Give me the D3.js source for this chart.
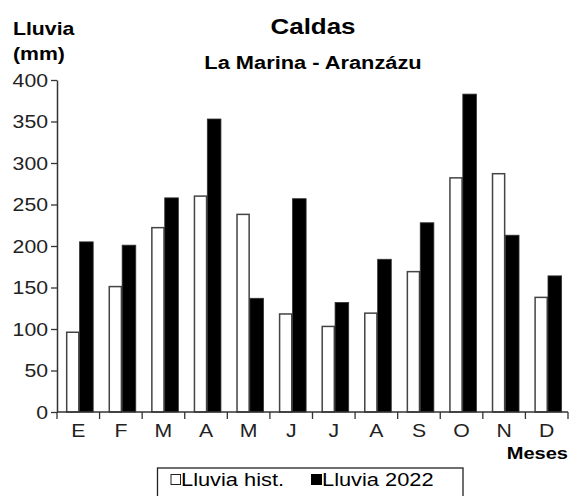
<!DOCTYPE html>
<html><head><meta charset="utf-8">
<script src="https://cdn.jsdelivr.net/npm/d3@7/dist/d3.min.js"></script>
<style>body{margin:0;background:#fff}svg{display:block;font-family:"Liberation Sans",Arial,sans-serif}</style>
</head><body>
<script>
const months = ["E","F","M","A","M","J","J","A","S","O","N","D"];
const series = ["Lluvia hist.","Lluvia 2022"];
const hist = [97,152,223,261,239,119,104,120,170,283,288,139];
const y2022 = [205,201,258,353,137,257,132,184,228,383,213,164];
const yTicks = [0,50,100,150,200,250,300,350,400];

(function(){
const W=571,H=496, SX=1.18;
const svg=d3.select("body").append("svg").attr("width",W).attr("height",H);
const mLeft=57,mRight=568,mTop=80,mBottom=412;
const x=d3.scaleBand().domain(d3.range(months.length)).range([mLeft,mRight]).padding(0);
const bw=x.bandwidth();
const x1=d3.scaleBand().domain(series).range([bw*0.21,bw*0.85]).padding(0);
const y=d3.scaleLinear().domain([0,400]).range([mBottom,mTop]);

function stretchText(sel){
  sel.each(function(){
    const t=d3.select(this);
    const xx=+t.attr("x")||0, yy=+t.attr("y")||0;
    t.attr("transform",`translate(${xx},${yy}) scale(${SX},1)`).attr("x",0).attr("y",0);
  });
}
function txt(x0,y0,s,size,weight,anchor,fill){
  const t=svg.append("text").attr("x",x0).attr("y",y0).text(s)
    .attr("font-size",size).attr("font-weight",weight).attr("text-anchor",anchor).attr("fill",fill||"#000");
  stretchText(t);return t;
}

const data=months.map((m,i)=>({i,vals:[hist[i],y2022[i]]}));
const g=svg.append("g");
data.forEach(d=>{
  series.forEach((s,k)=>{
    const v=d.vals[k];
    if(k===0){
      g.append("rect").attr("x",x(d.i)+x1(s)+0.75).attr("y",y(v)+0.75)
       .attr("width",x1.bandwidth()-1.5).attr("height",y(0)-y(v)-0.75)
       .attr("fill","#fff").attr("stroke","#444").attr("stroke-width",1.5);
    } else {
      g.append("rect").attr("x",x(d.i)+x1(s)).attr("y",y(v))
       .attr("width",x1.bandwidth()).attr("height",y(0)-y(v))
       .attr("fill","#000").attr("stroke","#333").attr("stroke-width",0.8);
    }
  });
});

// y axis
const ya=svg.append("g").attr("transform",`translate(${mLeft},0)`)
  .call(d3.axisLeft(y).tickValues(yTicks).tickSize(6).tickSizeOuter(0).tickPadding(3));
ya.select(".domain").attr("stroke","#333").attr("stroke-width",1.5);
ya.selectAll(".tick line").attr("stroke","#333").attr("stroke-width",1.3);
ya.selectAll(".tick text").attr("font-size",18).attr("fill","#222").attr("font-family","Liberation Sans, Arial, sans-serif")
  .attr("dy","0.36em").each(function(){
    const t=d3.select(this);
    t.attr("transform",`translate(-9,0) scale(${SX},1)`).attr("x",0);
  });

// x axis
const xa=svg.append("g").attr("transform",`translate(0,${mBottom})`);
xa.append("line").attr("x1",mLeft).attr("x2",mRight).attr("y1",0).attr("y2",0).attr("stroke","#333").attr("stroke-width",1.5);
d3.range(months.length+1).forEach(i=>{
  const xx=i<months.length?x(i):mRight;
  xa.append("line").attr("x1",xx).attr("x2",xx).attr("y1",0).attr("y2",7).attr("stroke","#333").attr("stroke-width",1.3);
});
months.forEach((m,i)=>{
  const t=xa.append("text").attr("x",x(i)+bw/2).attr("y",25).text(m).attr("font-size",18)
    .attr("text-anchor","middle").attr("fill","#222");
  stretchText(t);
});

// titles
txt(313,34,"Caldas",22,"bold","middle");
txt(313,69,"La Marina - Aranzázu",18.5,"bold","middle");
txt(13,35,"Lluvia",18,"bold","start");
txt(13,60,"(mm)",18,"bold","start");
txt(568,459,"Meses",17,"bold","end");

// legend
svg.append("rect").attr("x",157.5).attr("y",468).attr("width",305.5).attr("height",40)
  .attr("fill","#fff").attr("stroke","#222").attr("stroke-width",1.3);
svg.append("rect").attr("x",171).attr("y",474.5).attr("width",9.5).attr("height",10)
  .attr("fill","#fff").attr("stroke","#222").attr("stroke-width",1);
txt(181,485.5,series[0],18.5,"normal","start","#000");
svg.append("rect").attr("x",311).attr("y",474).attr("width",11).attr("height",11).attr("fill","#000");
txt(322,485.5,series[1],18.5,"normal","start","#000");
})();
</script>
</body></html>
